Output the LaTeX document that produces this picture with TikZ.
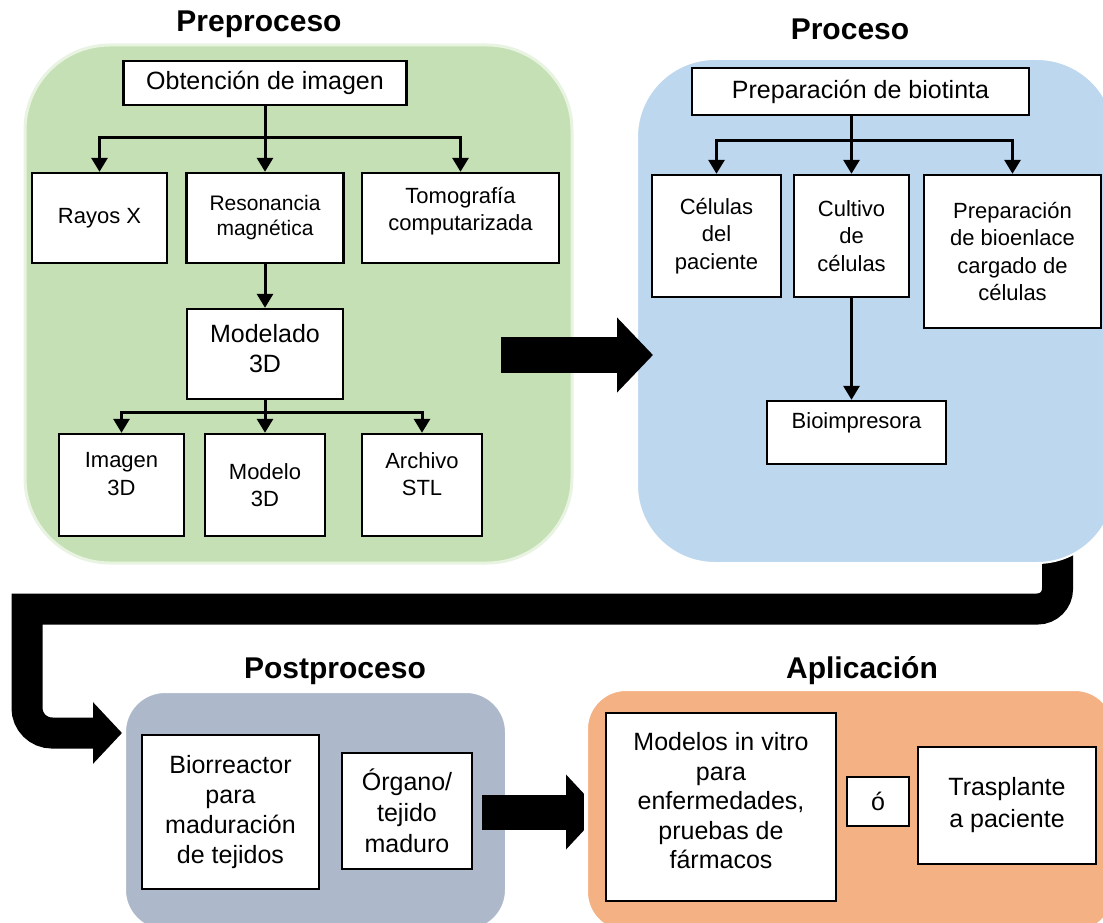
\documentclass[tikz,border=0pt]{standalone}
\usepackage{fontspec}
\setmainfont{Liberation Sans}
\usepackage{tikz}
\usepackage{xcolor}
\usetikzlibrary{arrows.meta, positioning}

\definecolor{verde}{HTML}{C5E0B4}
\definecolor{azul}{HTML}{BDD7EE}
\definecolor{gris}{HTML}{ADB9CA}
\definecolor{naranja}{HTML}{F4B183}

\begin{document}
\begin{tikzpicture}[
    x=1pt, y=-1pt,
    caja/.style={rectangle, draw, line width=2.4pt, fill=white, align=center, inner sep=2pt, font=\fontsize{22}{27.5}\selectfont},
    grande/.style={font=\fontsize{25}{30}\selectfont},
    texto/.style={align=center, font=\fontsize{22}{27.5}\selectfont},
    panel/.style={rectangle, draw=white, line width=2pt, inner sep=0pt},
    titulo/.style={anchor=base, font=\bfseries\fontsize{30}{36}\selectfont},
    flecha/.style={-{Triangle[length=14pt, width=16pt]}, line width=3pt},
    flechota/.style={-{Triangle[length=36pt, width=73pt]}, line width=36pt}
]
\useasboundingbox (0,0) rectangle (1103,923);

% flecha curva de Proceso a Postproceso
\coordinate (c0) at (1057.5,540);
\coordinate (c1) at (1057.5,609);
\coordinate (c2) at (27,609);
\coordinate (c3) at (27,733);
\coordinate (c4) at (122,733);
\draw[line width=31pt, -{Triangle[length=29pt, width=60pt]}] (c0) [rounded corners=20pt] -- (c1) [sharp corners] -- (c2) [rounded corners=25pt] -- (c3) -- (c4);

\node[panel, fill=verde, draw=verde!40!white, line width=3pt, rounded corners=85pt, minimum width=547pt, minimum height=518pt] (pre) at (298.5,304) {};
\node[panel, fill=azul, rounded corners=78pt, minimum width=478pt, minimum height=504pt] (proc) at (876,311) {};
\node[panel, fill=gris, rounded corners=40pt, minimum width=381pt, minimum height=238pt] (post) at (315.5,811) {};

\node[titulo] (tpre) at (259,32) {Preproceso};
\node[titulo] (tproc) at (850,40) {Proceso};
\node[titulo] (tpost) at (335,678) {Postproceso};
\node[titulo] (tapl) at (862,678) {Aplicación};

\node[caja, grande, minimum width=283pt, minimum height=44pt] (obt) at (265,83) {Obtención de imagen};
\node[caja, minimum width=135pt, minimum height=90pt] (rayos) at (99.5,218) {Rayos X};
\node[caja, minimum width=157pt, minimum height=90pt, font=\fontsize{21}{25}\selectfont] (reson) at (265,218) {Resonancia\\magnética};
\node[caja, minimum width=197pt, minimum height=90pt, label={[texto, yshift=7pt]center:Tomografía\\computarizada}] (tomo) at (460.5,218) {};
\node[caja, grande, minimum width=156pt, minimum height=90pt, label={[texto, grande, yshift=5pt]center:Modelado\\3D}] (model) at (265,354) {};
\node[caja, minimum width=125pt, minimum height=102pt, label={[texto, yshift=11pt]center:Imagen\\3D}] (imagen) at (121.5,485) {};
\node[caja, minimum width=120pt, minimum height=102pt] (modelo) at (265,485) {Modelo\\3D};
\node[caja, minimum width=120pt, minimum height=102pt, label={[texto, yshift=11pt]center:Archivo\\STL}] (archivo) at (422,485) {};

\draw[flecha] (obt) -- (reson);
\draw[flecha] (obt.south) -- ++(0,31) -| (rayos);
\draw[flecha] (obt.south) -- ++(0,31) -| (tomo);
\draw[flecha] (reson) -- (model);
\draw[flecha] (model) -- (modelo);
\draw[flecha] (model.south) -- ++(0,12) -| (imagen);
\draw[flecha] (model.south) -- ++(0,12) -| (archivo);

\node[caja, grande, minimum width=337pt, minimum height=47pt] (prep) at (860.5,91.5) {Preparación de biotinta};
\node[caja, minimum width=129pt, minimum height=122pt] (celulas) at (716.5,236) {Células\\del\\paciente};
\node[caja, minimum width=115pt, minimum height=122pt] (cultivo) at (851.5,236) {Cultivo\\de\\células};
\node[caja, minimum width=177pt, minimum height=153pt] (bioenlace) at (1012.5,251.5) {Preparación\\de bioenlace\\cargado de\\células};
\node[caja, minimum width=179pt, minimum height=63pt, label={[texto, yshift=9.5pt]center:Bioimpresora}] (bioimp) at (856.5,432.5) {};

\draw[flecha] (prep.south -| cultivo) -- (cultivo);
\draw[flecha] (prep.south -| cultivo) -- ++(0,24) -| (celulas);
\draw[flecha] (prep.south -| cultivo) -- ++(0,24) -| (bioenlace);
\draw[flecha] (cultivo) -- (cultivo |- bioimp.north);

\coordinate (f1a) at (501,355);
\coordinate (f1b) at (653,355);
\draw[flechota] (f1a) -- (f1b);

\node[caja, grande, minimum width=177pt, minimum height=154pt] (bior) at (230.5,812) {Biorreactor\\para\\maduración\\de tejidos};
\node[caja, font=\fontsize{25}{31}\selectfont, minimum width=130pt, minimum height=116pt] (organo) at (407,811) {Órgano/\\tejido\\maduro};

\coordinate (f3a) at (482,812);
\coordinate (f3b) at (601,812);
\draw[flechota, line width=35pt, -{Triangle[length=35pt, width=73pt]}] (f3a) -- (f3b);

\node[panel, fill=naranja, line width=4pt, rounded corners=40pt, minimum width=529pt, minimum height=243pt] (apl) at (850.5,810.5) {};

\node[caja, minimum width=230pt, minimum height=188pt, label={[texto, font=\fontsize{25}{29.5}\selectfont, yshift=6pt]center:Modelos in vitro\\para\\enfermedades,\\pruebas de\\fármacos}] (modelos) at (721,807) {};
\node[caja, grande, minimum width=62pt, minimum height=49pt] (o) at (878,801.5) {ó};
\node[caja, font=\fontsize{25}{32}\selectfont, minimum width=178pt, minimum height=117pt] (tras) at (1007,805.5) {Trasplante\\a paciente};

\end{tikzpicture}
\end{document}
